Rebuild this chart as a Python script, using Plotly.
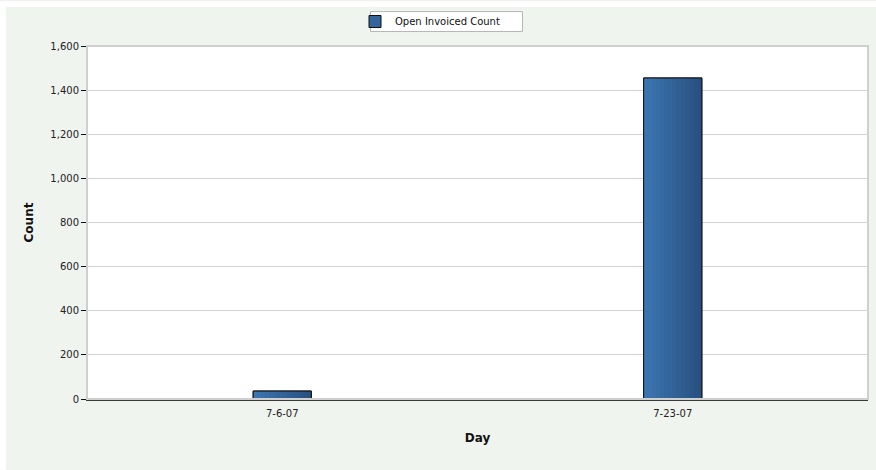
import plotly.graph_objects as go

# Chart data
days = ["7-6-07", "7-23-07"]
open_invoiced_count = [36, 1455]
y_ticks = [0, 200, 400, 600, 800, 1000, 1200, 1400, 1600]
y_tick_labels = ["0", "200", "400", "600", "800", "1,000", "1,200", "1,400", "1,600"]

W, H = 876, 470
ML, MR, MT, MB = 87, 8, 45, 71
PW, PH = W - ML - MR, H - MT - MB

BAR_W = 0.149
N_SLICES = 14
LEFT_RGB = (60, 118, 178)
RIGHT_RGB = (41, 80, 128)
FONT = "DejaVu Sans"


def px_x(p):
    return (p - ML) / PW


def px_y(p):
    return (H - MB - p) / PH


fig = go.Figure()

# Legend entry / base bar
fig.add_trace(go.Bar(
    x=days, y=open_invoiced_count, name="Open Invoiced Count",
    width=BAR_W, marker=dict(color="#33649b", line=dict(color="#111111", width=1)),
    showlegend=True, hoverinfo="skip",
))

# Horizontal shading across each bar
for i in range(N_SLICES):
    t = i / (N_SLICES - 1)
    r, g, b = (round(a + (c - a) * t) for a, c in zip(LEFT_RGB, RIGHT_RGB))
    sw = BAR_W / N_SLICES
    fig.add_trace(go.Bar(
        x=days, y=open_invoiced_count, width=sw * 1.02,
        offset=-BAR_W / 2 + i * sw,
        marker=dict(color=f"rgb({r},{g},{b})", line=dict(width=0)),
        showlegend=False, hoverinfo="skip",
    ))

# Bar outline on top
fig.add_trace(go.Bar(
    x=days, y=open_invoiced_count, width=BAR_W,
    marker=dict(color="rgba(0,0,0,0)", line=dict(color="#111111", width=1)),
    showlegend=False, hovertemplate="%{x}: %{y}<extra></extra>",
))

shapes = [
    # white strips at top and left edges of the canvas
    dict(type="rect", xref="paper", yref="paper", x0=px_x(0), x1=px_x(6),
         y0=px_y(H), y1=px_y(0), fillcolor="white", line=dict(width=0), layer="below"),
    dict(type="rect", xref="paper", yref="paper", x0=px_x(0), x1=px_x(W),
         y0=px_y(6), y1=px_y(0), fillcolor="white", line=dict(width=0), layer="below"),
    # plot-area frame (top / right)
    dict(type="rect", xref="paper", yref="paper", x0=0, x1=1, y0=0, y1=1,
         line=dict(color="#cfcfcf", width=2), fillcolor="rgba(0,0,0,0)", layer="above"),
    # legend box
    dict(type="rect", xref="paper", yref="paper", x0=px_x(370.5), x1=px_x(522.5),
         y0=px_y(30.5), y1=px_y(10.5), fillcolor="white",
         line=dict(color="#b5b5b5", width=1), layer="above"),
]

fig.update_layout(
    width=W, height=H,
    margin=dict(l=ML, r=MR, t=MT, b=MB),
    paper_bgcolor="#f0f4ef",
    plot_bgcolor="white",
    barmode="overlay",
    font=dict(family=FONT, size=10, color="#222222"),
    shapes=shapes,
    legend=dict(
        x=px_x(355), y=px_y(7), xanchor="left", yanchor="top",
        bgcolor="rgba(0,0,0,0)", borderwidth=0,
        font=dict(family=FONT, size=10, color="#111111"),
        itemwidth=30,
    ),
    xaxis=dict(
        type="category", range=[-0.5, 1.5],
        showline=True, linecolor="#3a3a3a", linewidth=2,
        ticks="outside", ticklen=4, tickcolor="rgba(0,0,0,0)",
        showgrid=False, zeroline=False,
        tickfont=dict(family=FONT, size=10, color="#222222"),
        title=dict(text="Day", standoff=16,
                   font=dict(family=FONT, size=12, color="#111111", weight="bold")),
    ),
    yaxis=dict(
        range=[0, 1600], tickvals=y_ticks, ticktext=y_tick_labels,
        showline=True, linecolor="#111111", linewidth=1,
        ticks="outside", ticklen=5, tickcolor="#111111",
        showgrid=True, gridcolor="#d2d2d2", gridwidth=1,
        zeroline=False,
        tickfont=dict(family=FONT, size=10, color="#222222"),
        title=dict(text="Count", standoff=14,
                   font=dict(family=FONT, size=12, color="#111111", weight="bold")),
    ),
)

fig.write_html("out.html")
